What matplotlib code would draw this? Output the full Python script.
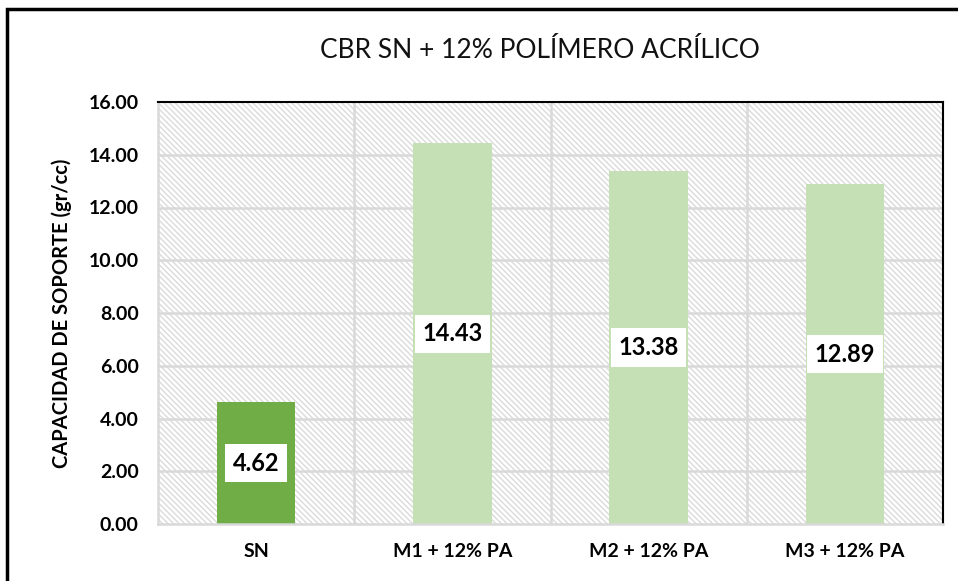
import matplotlib
matplotlib.use("Agg")
import matplotlib.pyplot as plt
from matplotlib.patches import Rectangle
import matplotlib as mpl

categories = ["SN", "M1 + 12% PA", "M2 + 12% PA", "M3 + 12% PA"]
values = [4.62, 14.43, 13.38, 12.89]
labels = ["4.62", "14.43", "13.38", "12.89"]
colors = ["#70AD47", "#C5E0B4", "#C5E0B4", "#C5E0B4"]
yticks = [0, 2, 4, 6, 8, 10, 12, 14, 16]

plt.rcParams['font.family'] = ['Lato', 'DejaVu Sans']
mpl.rcParams['hatch.color'] = '#dadada'
mpl.rcParams['hatch.linewidth'] = 1.0

fig = plt.figure(figsize=(9.58, 5.81), dpi=100)
ax = fig.add_axes([158/958, 1-524/581, (943-158)/958, (524-102)/581])

ax.set_xlim(-0.5, 3.5)
ax.set_ylim(0, 16)

# hatched background
bg = Rectangle((0, 0), 1, 1, transform=ax.transAxes, facecolor='white',
               edgecolor='#dadada', hatch='\\' * 6, linewidth=0, zorder=0)
ax.add_patch(bg)

ax.set_yticks(yticks)
ax.set_yticklabels([f"{v:.2f}" for v in yticks], fontsize=14, fontweight='bold')
ax.set_xticks(range(len(categories)))
ax.set_xticklabels(categories, fontsize=14, fontweight='bold')
ax.tick_params(axis='y', length=0, pad=14)
ax.tick_params(axis='x', length=0, pad=14)

for y in yticks[1:-1]:
    ax.axhline(y, color='#d9d9d9', lw=1.8, zorder=1)
for x in [0.5, 1.5, 2.5]:
    ax.axvline(x, color='#d9d9d9', lw=1.8, zorder=1)

ax.bar(range(len(categories)), values, width=0.4, color=colors, zorder=2)

for i, (v, l) in enumerate(zip(values, labels)):
    ax.text(i, v/2, l, ha='center', va='center', fontsize=17, fontweight='bold',
            zorder=3, bbox=dict(boxstyle='square,pad=0.32', facecolor='white', edgecolor='none'))

ax.spines['top'].set_color('black')
ax.spines['top'].set_linewidth(1.5)
ax.spines['right'].set_color('black')
ax.spines['right'].set_linewidth(1.5)
ax.spines['left'].set_color('#d9d9d9')
ax.spines['left'].set_linewidth(1.8)
ax.spines['bottom'].set_color('#d9d9d9')
ax.spines['bottom'].set_linewidth(1.8)

ax.set_ylabel("CAPACIDAD DE SOPORTE (gr/cc)", fontsize=14.5, fontweight='bold')
ax.yaxis.set_label_coords(-(158-72)/785, 0.5)

fig.text(540/958, 1-51/581, "CBR SN + 12% POLÍMERO ACRÍLICO", ha='center', va='center',
         fontsize=19, fontweight='normal', color='#111111')

# outer border
fig.patches.append(Rectangle((7/958, -0.05), 1.0, 1-9/581+0.05, transform=fig.transFigure,
                             fill=False, edgecolor='black', linewidth=2.5))

fig.savefig("out.png", dpi=100)
